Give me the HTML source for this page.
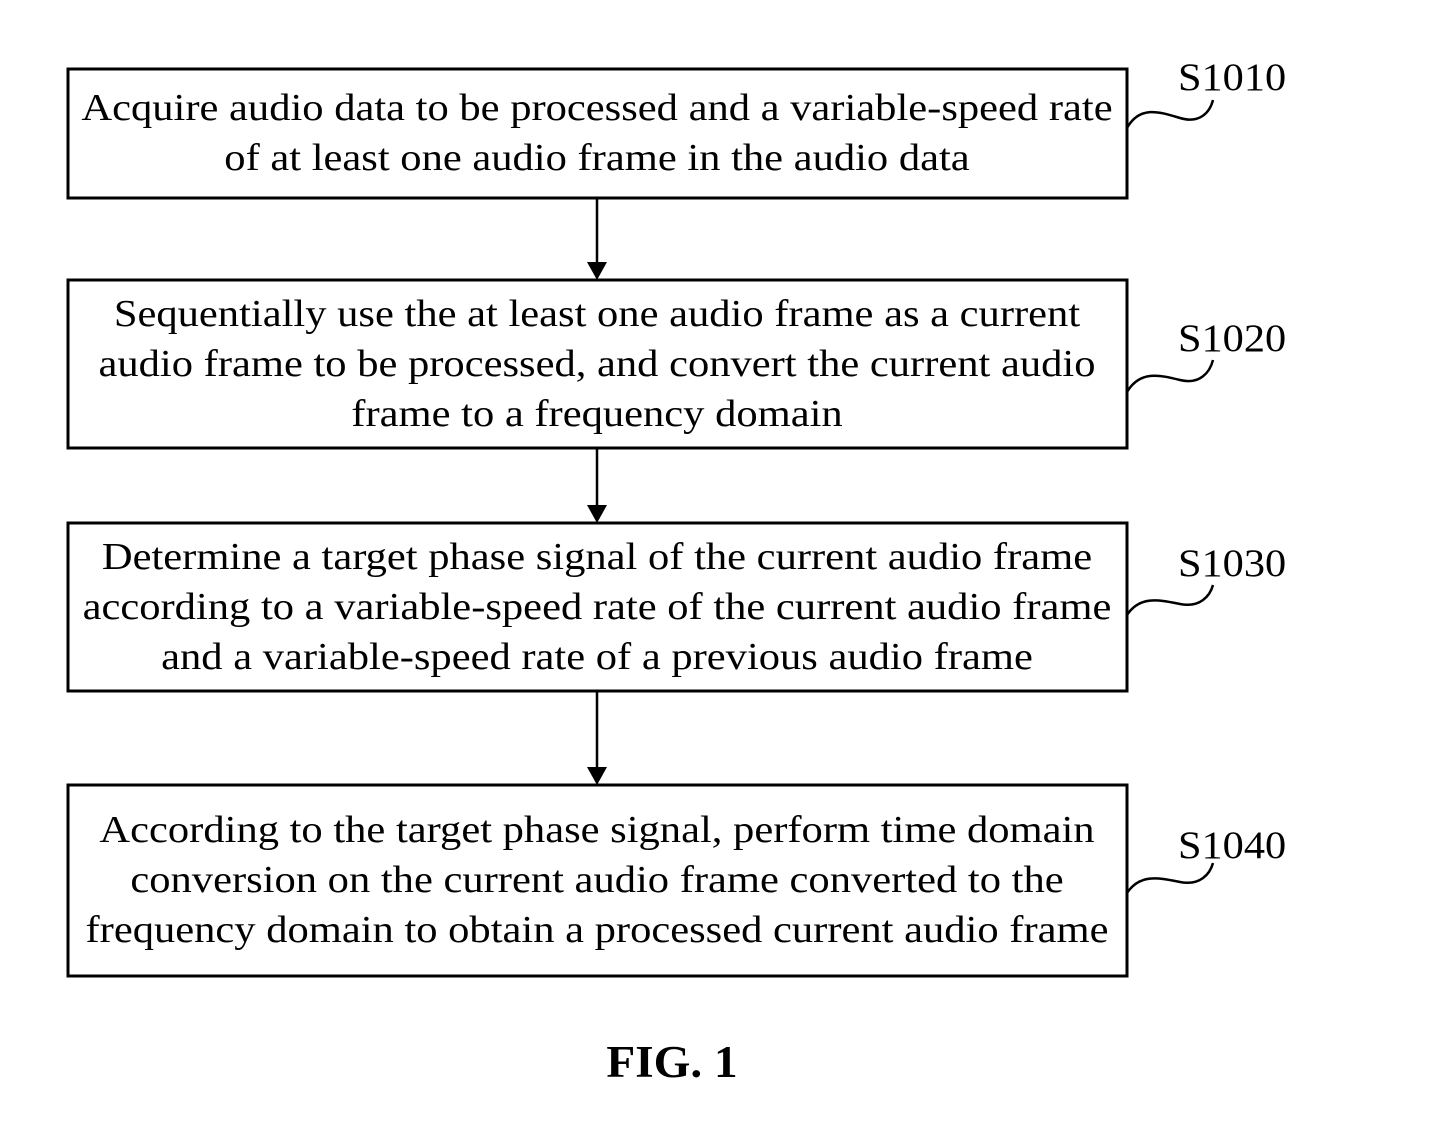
<!DOCTYPE html>
<html><head><meta charset="utf-8"><style>
html,body{margin:0;padding:0;background:#fff;}
svg{display:block;}
text{font-family:"Liberation Serif",serif;fill:#000;}
</style></head><body>
<svg width="1429" height="1122" viewBox="0 0 1429 1122" xmlns="http://www.w3.org/2000/svg">
<g fill="none" stroke="#000" stroke-width="3">
<rect x="68" y="69" width="1059" height="129"/>
<rect x="68" y="280" width="1059" height="168"/>
<rect x="68" y="523" width="1059" height="168"/>
<rect x="68" y="785" width="1059" height="191"/>
</g>
<g stroke="#000" stroke-width="2.5">
<line x1="597" y1="198" x2="597" y2="266"/>
<line x1="597" y1="448" x2="597" y2="509"/>
<line x1="597" y1="691" x2="597" y2="771"/>
</g>
<g fill="#000">
<path d="M587,262 L607,262 L597,280 Z"/>
<path d="M587,505 L607,505 L597,523 Z"/>
<path d="M587,767 L607,767 L597,785 Z"/>
</g>
<g fill="none" stroke="#000" stroke-width="2.5">
<path d="M1127,128 C1140,105 1160,112 1180,118 C1200,124 1210,112 1213,100"/>
<path d="M1127,392 C1140,370 1160,375 1180,380 C1200,385 1210,372 1213,360"/>
<path d="M1127,615 C1140,595 1160,600 1180,604 C1200,608 1210,596 1213,585"/>
<path d="M1127,893 C1140,873 1160,878 1180,882 C1200,886 1210,874 1213,863"/>
</g>
<g font-size="39" transform="translate(1178,0) scale(1.085,1) translate(-1178,0)">
<text x="1178" y="90">S1010</text>
<text x="1178" y="351">S1020</text>
<text x="1178" y="576">S1030</text>
<text x="1178" y="858">S1040</text>
</g>
<g font-size="38" text-anchor="middle" transform="translate(597,0) scale(1.12,1) translate(-597,0)">
<text x="597" y="120">Acquire audio data to be processed and a variable-speed rate</text>
<text x="597" y="170">of at least one audio frame in the audio data</text>
<text x="597" y="326">Sequentially use the at least one audio frame as a current</text>
<text x="597" y="376">audio frame to be processed, and convert the current audio</text>
<text x="597" y="426">frame to a frequency domain</text>
<text x="597" y="569">Determine a target phase signal of the current audio frame</text>
<text x="597" y="619">according to a variable-speed rate of the current audio frame</text>
<text x="597" y="669">and a variable-speed rate of a previous audio frame</text>
<text x="597" y="842">According to the target phase signal, perform time domain</text>
<text x="597" y="892">conversion on the current audio frame converted to the</text>
<text x="597" y="942">frequency domain to obtain a processed current audio frame</text>
</g>
<g transform="translate(672,0) scale(1.05,1) translate(-672,0)">
<text x="672" y="1077" font-size="45" font-weight="bold" text-anchor="middle">FIG. 1</text>
</g>
</svg>
</body></html>
